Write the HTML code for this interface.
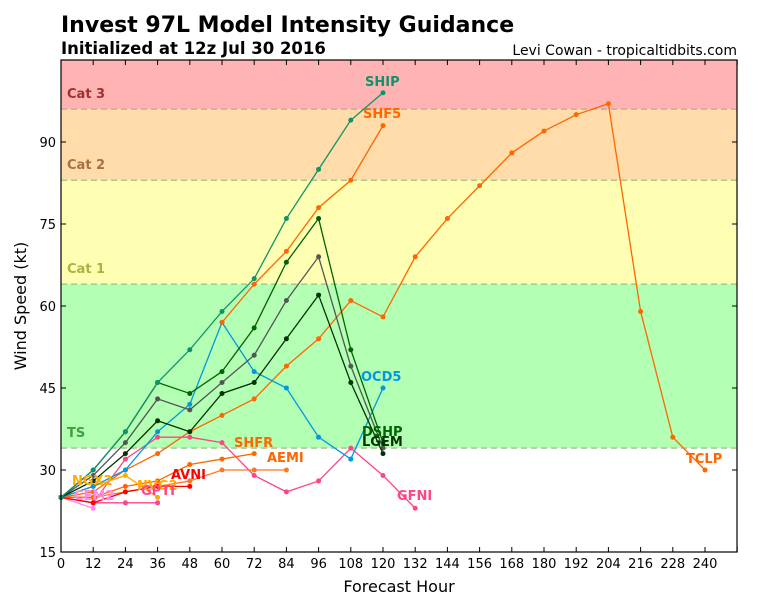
<!DOCTYPE html><html><head><style>
body{margin:0;background:#fff;width:768px;height:600px;overflow:hidden;font-family:"DejaVu Sans","Liberation Sans",sans-serif}
</style></head><body>
<svg id="s" width="768" height="600" xmlns="http://www.w3.org/2000/svg" font-family="DejaVu Sans, Liberation Sans, sans-serif">
<text x="61" y="32" font-size="22" font-weight="bold">Invest 97L Model Intensity Guidance</text>
<text x="61" y="54" font-size="16.5" font-weight="bold">Initialized at 12z Jul 30 2016</text>
<text x="737" y="55" font-size="14" text-anchor="end">Levi Cowan - tropicaltidbits.com</text>
<g id="plot"></g>
<text x="399" y="592" font-size="16" text-anchor="middle">Forecast Hour</text>
<text transform="translate(26,306) rotate(-90)" font-size="16" text-anchor="middle">Wind Speed (kt)</text>
</svg>
<script>
const X=h=>61+h*644/240, Y=v=>552-(v-15)*82/15;
let o='';
const r=(y1,y2,c)=>o+=`<rect x="61" y="${Y(y2)}" width="676" height="${Y(y1)-Y(y2)}" fill="${c}"/>`;
r(15,34,'#fff');r(34,64,'#b3ffb3');r(64,83,'#ffffb3');r(83,96,'#ffdcaa');r(96,105,'#ffb3b3');
[34,64,83,96].forEach(v=>o+=`<line x1="61" x2="737" y1="${Y(v)}" y2="${Y(v)}" stroke="#7aa860" stroke-opacity="0.7" stroke-dasharray="6,4" stroke-width="1.2"/>`);
o+=`<text x="67" y="98" font-size="13" font-weight="bold" fill="#a03030">Cat 3</text>
<text x="67" y="169" font-size="13" font-weight="bold" fill="#a87040">Cat 2</text>
<text x="67" y="273" font-size="13" font-weight="bold" fill="#b0b040">Cat 1</text>
<text x="67" y="437" font-size="13" font-weight="bold" fill="#40a040">TS</text>`;
const S=(c,d,w)=>{let p=d.map(([h,v])=>X(h)+','+Y(v)).join(' ');o+=`<polyline points="${p}" fill="none" stroke="${c}" stroke-width="${w||1.3}"/>`;d.forEach(([h,v])=>o+=`<circle cx="${X(h)}" cy="${Y(v)}" r="2.5" fill="${c}"/>`);};
S('#ff6600',[[0,25],[12,26],[24,30],[36,33],[48,37],[60,40],[72,43],[84,49],[96,54],[108,61],[120,58],[132,69],[144,76],[156,82],[168,88],[180,92],[192,95],[204,97],[216,59],[228,36],[240,30]]);
S('#ff4488',[[0,25],[12,24],[24,24],[36,24]]);
S('#ff4488',[[0,25],[12,24],[24,32],[36,36],[48,36],[60,35],[72,29],[84,26],[96,28],[108,34],[120,29],[132,23]]);
S('#ff88ee',[[0,25],[12,23]]);
S('#ff7722',[[0,25],[12,25],[24,26],[36,27],[48,28],[60,30],[72,30],[84,30]]);
S('#ff6600',[[0,25],[12,25],[24,27],[36,28],[48,31],[60,32],[72,33]]);
S('#ff0000',[[0,25],[12,24],[24,26],[36,27],[48,27]]);
S('#ffaa00',[[0,25],[12,27],[24,29],[36,25]]);
S('#0099dd',[[0,25],[12,27],[24,30],[36,37],[48,42],[60,57],[72,48],[84,45],[96,36],[108,32],[120,45]]);
S('#555555',[[0,25],[12,29],[24,35],[36,43],[48,41],[60,46],[72,51],[84,61],[96,69],[108,49],[120,34]]);
S('#003300',[[0,25],[12,28],[24,33],[36,39],[48,37],[60,44],[72,46],[84,54],[96,62],[108,46],[120,33]]);
S('#006400',[[0,25],[12,30],[24,37],[36,46],[48,44],[60,48],[72,56],[84,68],[96,76],[108,52],[120,35]]);
S('#ff6600',[[60,57],[72,64],[84,70],[96,78],[108,83],[120,93]]);
S('#11936a',[[0,25],[12,30],[24,37],[36,46],[48,52],[60,59],[72,65],[84,76],[96,85],[108,94],[120,99]]);
const L=(t,x,y,c)=>o+=`<text x="${x}" y="${y}" font-size="13" font-weight="bold" fill="${c}">${t}</text>`;
L('SHIP',365,86,'#11936a');L('SHF5',363,118,'#ff6600');L('OCD5',361,381,'#0099dd');
L('DSHP',362,436,'#006400');L('LGEM',362,446,'#003300');L('SHFR',234,447,'#ff6600');L('AEMI',267,462,'#ff6600');
L('AVNI',171,479,'#ff0000');L('TCLP',686,463,'#ff6600');L('GFNI',397,500,'#ff4488');
L('NGX2',72,485,'#ffaa00');L('NVG2',137,490,'#ffaa00');L('GPTI',141,495,'#ff4488');L('CEM2',74,500,'#ff88ee');
o+=`<rect x="61" y="60" width="676" height="492" fill="none" stroke="#000" stroke-width="1.2"/>`;
for(let h=0;h<=252;h+=12){let x=X(h);o+=`<line x1="${x}" x2="${x}" y1="552" y2="547" stroke="#000"/><line x1="${x}" x2="${x}" y1="60" y2="65" stroke="#000"/>`;if(h<=240)o+=`<text x="${x}" y="568" font-size="13" text-anchor="middle">${h}</text>`;}
for(let v=15;v<=90;v+=15){let y=Y(v);o+=`<line x1="61" x2="66" y1="${y}" y2="${y}" stroke="#000"/><line x1="737" x2="732" y1="${y}" y2="${y}" stroke="#000"/><text x="56" y="${y+5}" font-size="13" text-anchor="end">${v}</text>`;}
document.getElementById('plot').innerHTML=o;
</script>
</body></html>
